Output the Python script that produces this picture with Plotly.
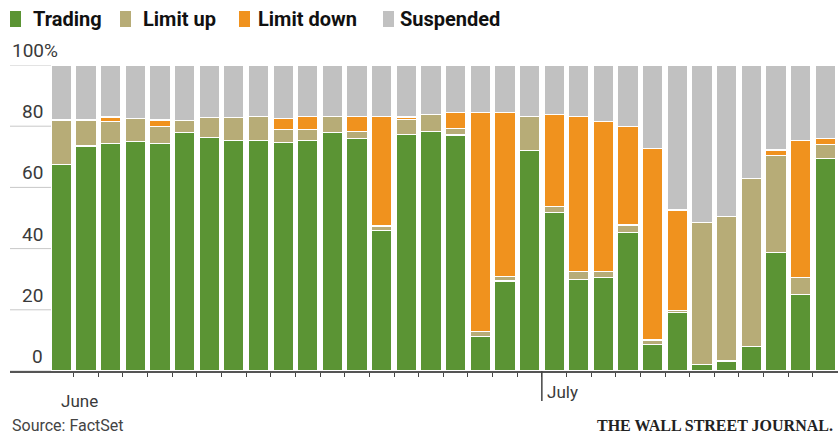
import plotly.graph_objects as go

# Trading days (index 0 = first June session shown; July starts at index 20)
day_index = list(range(32))
month_labels = ["June", "July"]
month_start_index = [0, 20]

trading = [67.5, 73.5, 74.4, 75.1, 74.4, 77.9, 76.4, 75.3, 75.3, 74.6, 75.3, 77.9, 76.0, 45.8, 77.3, 78.4,
           77.1, 11.2, 29.4, 72.0, 51.7, 30.0, 30.5, 45.2, 8.7, 19.1, 2.2, 3.3, 8.0, 38.7, 25.1, 69.5]
limit_up = [14.5, 8.5, 7.1, 7.3, 5.4, 3.9, 6.4, 7.5, 7.8, 4.4, 3.7, 5.2, 2.2, 1.6, 4.9, 5.3,
            2.2, 1.7, 1.6, 11.1, 2.0, 2.5, 2.0, 2.5, 1.4, 0.6, 46.3, 47.1, 55.0, 31.6, 5.4, 4.4]
limit_down = [0, 0, 1.5, 0, 2.2, 0, 0, 0, 0, 3.6, 4.1, 0, 4.9, 35.9, 0.8, 0,
              5.1, 71.5, 53.4, 0, 30.2, 50.6, 49.0, 32.1, 62.6, 32.9, 0, 0, 0, 1.9, 44.8, 2.1]
suspended = [18.0, 18.0, 17.0, 17.6, 18.0, 18.2, 17.2, 17.2, 16.9, 17.4, 16.9, 16.9, 16.9, 16.7, 17.0, 16.3,
             15.6, 15.6, 15.6, 16.9, 16.1, 16.9, 18.5, 20.2, 27.3, 47.4, 51.5, 49.6, 37.0, 27.8, 24.7, 24.0]

series_names = ["Trading", "Limit up", "Limit down", "Suspended"]
series_colors = ["#5b9434", "#b7ac77", "#f0921e", "#c1c1c1"]
y_ticks = [0, 20, 40, 60, 80, 100]
y_tick_labels = ["0", "20", "40", "60", "80", "100%"]

W, H = 838, 434
ML, MR, MT, MB = 10, 0, 65, 63
PW, PH = W - ML - MR, H - MT - MB

def px_x(p):
    return (p - ML) / PW

def px_y(p):
    return (H - MB - p) / PH

SANS = "Roboto, sans-serif"

fig = go.Figure()
for name, vals, col in zip(series_names, [trading, limit_up, limit_down, suspended], series_colors):
    fig.add_trace(go.Bar(x=day_index, y=vals, name=name, marker_color=col,
                         marker_line_color="#ffffff", marker_line_width=1.2, showlegend=False))

shapes = []
annotations = []
# gridlines in left gutter
for v in y_ticks:
    shapes.append(dict(type="line", xref="paper", yref="y", x0=0, x1=px_x(51), y0=v, y1=v,
                       line=dict(color="#c8c8c8", width=1), layer="below"))
# y labels
for v, lab in zip(y_ticks, y_tick_labels):
    if lab.endswith("%"):
        annotations.append(dict(x=px_x(10), xref="paper", y=v, yref="y", text=lab, showarrow=False,
                                xanchor="left", yanchor="bottom", yshift=1,
                                font=dict(family=SANS, size=19, color="#3a3a3a")))
    else:
        annotations.append(dict(x=px_x(45), xref="paper", y=v, yref="y", text=lab, showarrow=False,
                                xanchor="right", yanchor="bottom", yshift=1,
                                font=dict(family=SANS, size=19, color="#3a3a3a")))

# month labels and long July tick
for lab, idx in zip(month_labels, month_start_index):
    if idx == 0:
        annotations.append(dict(x=idx + 0.75, xref="x", y=px_y(401), yref="paper", text=lab,
                                showarrow=False, xanchor="center", yanchor="middle",
                                font=dict(family=SANS, size=17, color="#3a3a3a")))
    else:
        shapes.append(dict(type="line", xref="x", yref="paper", x0=idx - 0.5, x1=idx - 0.5,
                           y0=0, y1=px_y(401), line=dict(color="#444444", width=1.5)))
        annotations.append(dict(x=idx - 0.5, xref="x", y=px_y(392), yref="paper", text=lab,
                                showarrow=False, xanchor="left", yanchor="middle", xshift=3,
                                font=dict(family=SANS, size=17, color="#3a3a3a")))

# legend
legend_sq_x = [10, 120, 239, 383]
legend_tx_x = [31, 141, 256, 398]
for name, col, sx, tx in zip(series_names, series_colors, legend_sq_x, legend_tx_x):
    shapes.append(dict(type="rect", xref="paper", yref="paper", x0=px_x(sx), x1=px_x(sx + 11),
                       y0=px_y(27), y1=px_y(11), fillcolor=col, line=dict(width=0)))
    annotations.append(dict(x=px_x(tx), xref="paper", y=px_y(19), yref="paper", text="<b>%s</b>" % name,
                            showarrow=False, xanchor="left", yanchor="middle",
                            font=dict(family=SANS, size=20, color="#111111")))

annotations.append(dict(x=px_x(10), xref="paper", y=px_y(425), yref="paper", text="Source: FactSet",
                        showarrow=False, xanchor="left", yanchor="middle",
                        font=dict(family=SANS, size=16, color="#444444")))
annotations.append(dict(x=px_x(835), xref="paper", y=px_y(425), yref="paper",
                        text="<b>THE WALL STREET JOURNAL.</b>", showarrow=False,
                        xanchor="right", yanchor="middle",
                        font=dict(family="Liberation Serif, DejaVu Serif, serif", size=16, color="#222222")))

fig.update_layout(
    width=W, height=H, barmode="stack", bargap=0.17,
    margin=dict(l=ML, r=MR, t=MT, b=MB),
    paper_bgcolor="#ffffff", plot_bgcolor="#ffffff",
    shapes=shapes, annotations=annotations,
    xaxis=dict(range=[-2.086, 31.52], tickmode="array", tickvals=[i + 0.5 for i in day_index[:-1]],
               showticklabels=False, ticks="outside", ticklen=4, tickwidth=1.3, tickcolor="#444444",
               showline=True, linecolor="#555555", linewidth=2, showgrid=False, zeroline=False,
               fixedrange=True),
    yaxis=dict(range=[0, 100], showticklabels=False, showgrid=False, zeroline=False, fixedrange=True),
)

fig.write_html("out.html", config={"displayModeBar": False},
               post_script="document.body.style.margin='0';document.body.style.padding='0';")
